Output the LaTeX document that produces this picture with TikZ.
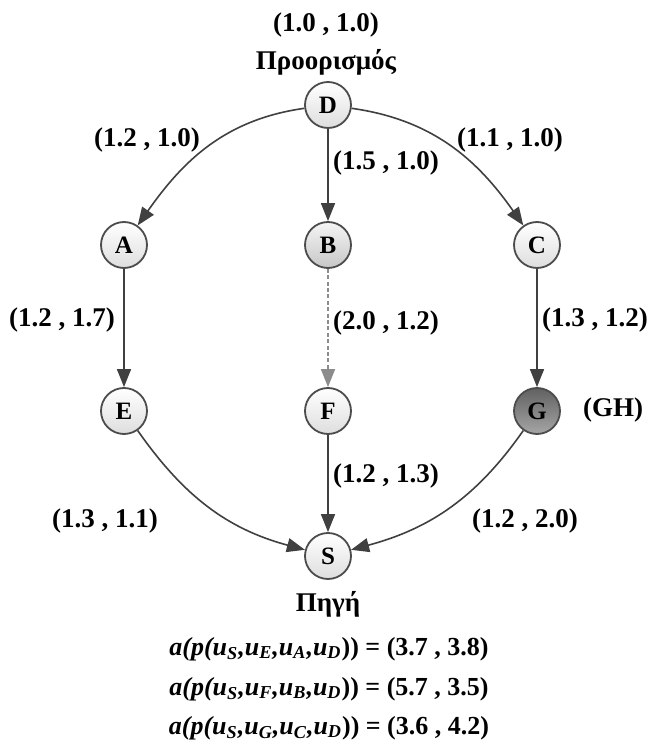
\documentclass[tikz,border=0pt]{standalone}
\usepackage{fontspec}
\setmainfont{Liberation Serif}
\usetikzlibrary{arrows.meta}

\tikzset{
	vertex/.style={circle, draw=black!70, line width=0.9pt, minimum size=23pt, inner sep=0pt,
		top color=white, bottom color=black!13, font=\bfseries\fontsize{12.5}{14}\selectfont},
	link/.style={draw=black!75, line width=0.8pt, -{Triangle[length=9pt,width=7pt]}},
	weight/.style={font=\bfseries\fontsize{13.5}{16}\selectfont},
	path/.style={font=\bfseries\fontsize{13}{16}\selectfont}
}

\begin{document}
\begin{tikzpicture}[x=0.5pt, y=0.5pt]
		\useasboundingbox (0,0) rectangle (653,740);
		%% The Vertices
		\node[vertex] (D) at (328,635) {D};
		\node[vertex] (A) at (124,495) {A};
		\node[vertex, top color=black!4, bottom color=black!22] (B) at (328,495) {B};
		\node[vertex] (C) at (537,495) {C};
		\node[vertex] (E) at (124,329) {E};
		\node[vertex] (F) at (328,329) {F};
		\node[vertex, top color=black!62, bottom color=black!35] (G) at (537,329) {G};
		\node[vertex] (S) at (328,184) {S};
		%% Source and destination
		\node[weight] (dval) at (326,715) {(1.0 , 1.0)};
		\node[weight] (dname) at (326,678) {Προορισμός};
		\node[weight] (sname) at (328,136) {Πηγή};
		\node[weight] (gh) at (613,330) {(GH)};
		%% The Links
		\draw[link] (D) to[out=188, in=55] (A);
		\draw[link] (D) -- (B);
		\draw[link] (D) to[out=-8, in=125] (C);
		\draw[link] (A) -- (E);
		\draw[link, draw=black!45, dash pattern=on 2pt off 1.2pt] (B) -- (F);
		\draw[link] (C) -- (G);
		\draw[link] (E) to[out=-55, in=165] (S);
		\draw[link] (F) -- (S);
		\draw[link] (G) to[out=-125, in=15] (S);
		%% The Weights
		\node[weight] (wda) at (147,600) {(1.2 , 1.0)};
		\node[weight] (wdb) at (386,577) {(1.5 , 1.0)};
		\node[weight] (wdc) at (510,600) {(1.1 , 1.0)};
		\node[weight] (wae) at (62,420) {(1.2 , 1.7)};
		\node[weight] (wbf) at (386,417) {(2.0 , 1.2)};
		\node[weight] (wcg) at (595,420) {(1.3 , 1.2)};
		\node[weight] (wfs) at (386,264) {(1.2 , 1.3)};
		\node[weight] (wes) at (105,219) {(1.3 , 1.1)};
		\node[weight] (wgs) at (525,219) {(1.2 , 2.0)};
		%% The Paths
		\node[path] (p1) at (329,91) {\textit{a(p(u\textsubscript{S},u\textsubscript{E},u\textsubscript{A},u\textsubscript{D}}))\ = (3.7 , 3.8)};
		\node[path] (p2) at (329,51) {\textit{a(p(u\textsubscript{S},u\textsubscript{F},u\textsubscript{B},u\textsubscript{D}}))\ = (5.7 , 3.5)};
		\node[path] (p3) at (329,12) {\textit{a(p(u\textsubscript{S},u\textsubscript{G},u\textsubscript{C},u\textsubscript{D}}))\ = (3.6 , 4.2)};
	\end{tikzpicture}
\end{document}
